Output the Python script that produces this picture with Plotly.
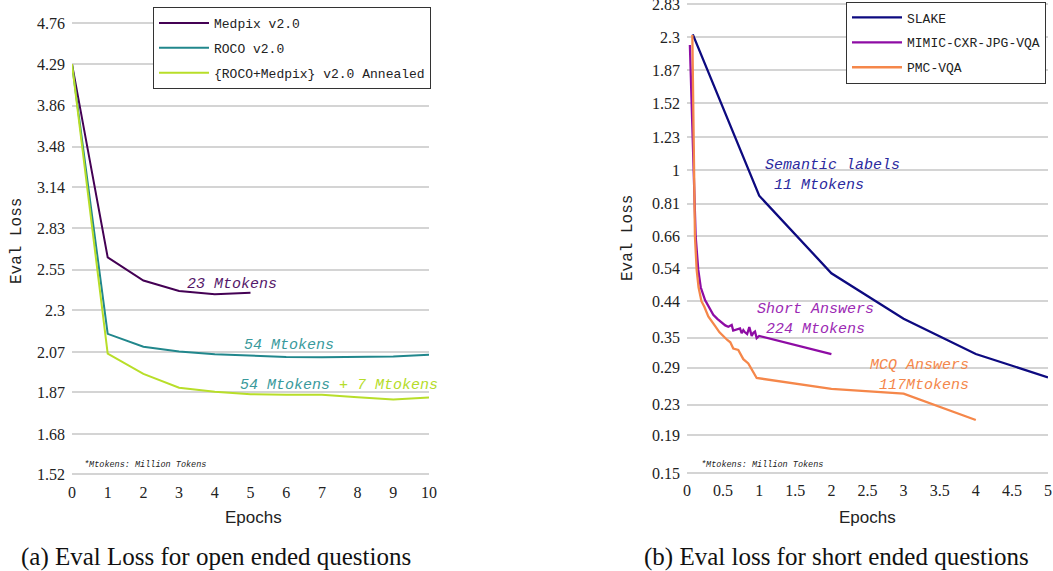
import math
import plotly.graph_objects as go

# ---------------- data: (a) open ended questions ----------------
epochs_a = [0, 1, 2, 3, 4, 5, 6, 7, 8, 9, 10]
medpix_epochs = [0, 1, 2, 3, 4, 5]
medpix_loss = [4.29, 2.63, 2.48, 2.415, 2.395, 2.405]
roco_loss = [4.29, 2.167, 2.098, 2.072, 2.058, 2.051, 2.044, 2.043, 2.044, 2.046, 2.056]
annealed_loss = [4.29, 2.061, 1.958, 1.891, 1.872, 1.86, 1.858, 1.857, 1.846, 1.835, 1.845]
yticks_a = [1.52, 1.68, 1.87, 2.07, 2.3, 2.55, 2.83, 3.14, 3.48, 3.86, 4.29, 4.76]

# ---------------- data: (b) short ended questions ----------------
slake_epochs = [0.08, 1, 2, 3, 4, 5]
slake_loss = [2.34, 0.852, 0.524, 0.394, 0.316, 0.273]
mimic_epochs = [0.04, 0.088, 0.12, 0.156, 0.19, 0.25, 0.30, 0.364, 0.42, 0.48, 0.53,
                0.572, 0.619, 0.64, 0.688, 0.734, 0.757, 0.78, 0.803, 0.833, 0.863,
                0.896, 0.92, 0.942, 0.965, 1.0, 2.0]
mimic_loss = [2.19, 1.0, 0.66, 0.535, 0.48, 0.443, 0.425, 0.404, 0.394, 0.384, 0.378,
              0.375, 0.379, 0.366, 0.368, 0.371, 0.36, 0.367, 0.362, 0.358, 0.374,
              0.354, 0.361, 0.364, 0.349, 0.354, 0.316]
pmc_epochs = [0.074, 0.097, 0.11, 0.134, 0.16, 0.2, 0.24, 0.295, 0.34, 0.388, 0.45,
              0.526, 0.558, 0.6, 0.641, 0.71, 0.78, 0.849, 0.965, 2.0, 3.0, 4.0]
pmc_loss = [2.33, 1.0, 0.66, 0.535, 0.48, 0.44, 0.425, 0.40, 0.39, 0.377, 0.362,
            0.349, 0.345, 0.34, 0.327, 0.324, 0.306, 0.298, 0.272, 0.254, 0.2465, 0.209]
yticks_b = [0.15, 0.19, 0.23, 0.29, 0.35, 0.44, 0.54, 0.66, 0.81, 1, 1.23, 1.52, 1.87, 2.3, 2.83]
xticks_b = [0, 0.5, 1, 1.5, 2, 2.5, 3, 3.5, 4, 4.5, 5]

W, H = 1053, 571
def px(x):
    return x / W
def py(y):
    return (H - y) / H

SERIF = "Liberation Serif"
MONO = "Liberation Mono"
SANS = "Liberation Sans"
GRID = "#d4d4d4"

fig = go.Figure()
fig.add_trace(go.Scatter(x=medpix_epochs, y=medpix_loss, mode="lines", name="Medpix v2.0",
                         line=dict(color="#440154", width=2), xaxis="x", yaxis="y",
                         legend="legend", legendgroup="a1"))
fig.add_trace(go.Scatter(x=epochs_a, y=roco_loss, mode="lines", name="ROCO v2.0",
                         line=dict(color="#21878c", width=2), xaxis="x", yaxis="y",
                         legend="legend", legendgroup="a2"))
fig.add_trace(go.Scatter(x=epochs_a, y=annealed_loss, mode="lines", name="{ROCO+Medpix} v2.0 Annealed",
                         line=dict(color="#b8de29", width=2), xaxis="x", yaxis="y",
                         legend="legend", legendgroup="a3"))

fig.add_trace(go.Scatter(x=slake_epochs, y=slake_loss, mode="lines", name="SLAKE",
                         line=dict(color="#0d0a80", width=2.3), xaxis="x2", yaxis="y2",
                         legend="legend2", legendgroup="b1"))
fig.add_trace(go.Scatter(x=mimic_epochs, y=mimic_loss, mode="lines", name="MIMIC-CXR-JPG-VQA",
                         line=dict(color="#8e0ca4", width=2.3), xaxis="x2", yaxis="y2",
                         legend="legend2", legendgroup="b2"))
fig.add_trace(go.Scatter(x=pmc_epochs, y=pmc_loss, mode="lines", name="PMC-VQA",
                         line=dict(color="#f5874a", width=2.3), xaxis="x2", yaxis="y2",
                         legend="legend2", legendgroup="b3"))

tickfont = dict(family=SERIF, size=16, color="#222")
fig.update_layout(
    width=W, height=H,
    margin=dict(l=0, r=0, t=0, b=0, autoexpand=False),
    paper_bgcolor="white", plot_bgcolor="white",
    xaxis=dict(domain=[px(72), px(429)], range=[0, 10], tickvals=epochs_a,
               showgrid=False, zeroline=False, showline=False, ticks="",
               tickfont=tickfont, ticklabelstandoff=4, anchor="y",
               ticklabeloverflow="allow"),
    yaxis=dict(domain=[py(476.7), py(20.3)], type="log",
               range=[math.log10(1.52) - 0.003, math.log10(4.76) + 0.003],
               tickvals=yticks_a, ticktext=[str(v) for v in yticks_a],
               showgrid=True, gridcolor=GRID, gridwidth=1.6, zeroline=False,
               showline=False, ticks="", tickfont=tickfont, ticklabelstandoff=6, anchor="x",
               ticklabeloverflow="allow"),
    xaxis2=dict(domain=[px(687), px(1048)], range=[0, 5], tickvals=xticks_b,
                ticktext=[("%g" % v) for v in xticks_b],
                showgrid=False, zeroline=False, showline=False, ticks="",
                tickfont=tickfont, ticklabelstandoff=4, anchor="y2",
                ticklabeloverflow="allow"),
    yaxis2=dict(domain=[py(474.8), py(2.2)], type="log",
                range=[math.log10(0.15) - 0.005, math.log10(2.83) + 0.005],
                tickvals=yticks_b, ticktext=[("%g" % v) for v in yticks_b],
                showgrid=True, gridcolor=GRID, gridwidth=1.6, zeroline=False,
                showline=False, ticks="", tickfont=tickfont, ticklabelstandoff=6, anchor="x2",
                ticklabeloverflow="allow"),
    legend=dict(x=px(153), y=py(7), xanchor="left", yanchor="top",
                bgcolor="white", bordercolor="#333", borderwidth=1,
                font=dict(family=MONO, size=13, color="#222"),
                tracegroupgap=5, itemwidth=50),
    legend2=dict(x=px(846), y=py(1.5), xanchor="left", yanchor="top",
                 bgcolor="white", bordercolor="#333", borderwidth=1,
                 font=dict(family=MONO, size=13, color="#222"),
                 tracegroupgap=5, itemwidth=50),
    showlegend=True,
)

def ann(x, y, text, size, color, family=MONO, xanchor="center", align="center", angle=0):
    fig.add_annotation(x=px(x), y=py(y), xref="paper", yref="paper", text=text,
                       showarrow=False, xanchor=xanchor, yanchor="middle", align=align,
                       textangle=angle, font=dict(family=family, size=size, color=color))

# axis titles
ann(17, 241, "Eval Loss", 16, "#222", angle=-90)
ann(628, 238, "Eval Loss", 16, "#222", angle=-90)
ann(253, 517, "Epochs", 17, "#222", family=SANS)
ann(867, 517, "Epochs", 17, "#222", family=SANS)

# captions
ann(216, 557, "(a) Eval Loss for open ended questions", 25, "#111", family=SERIF)
ann(836, 557, "(b) Eval loss for short ended questions", 25, "#111", family=SERIF)

# in-plot annotations (a)
ann(232, 284, "<i>23 Mtokens</i>", 15, "#55186a")
ann(289, 345, "<i>54 Mtokens</i>", 15, "#3a9a9c")
ann(339, 385, "<i><span style='color:#3a9a9c'>54 Mtokens</span> + 7 Mtokens</i>", 15, "#b5dc2a")
ann(82, 465, "<i>*Mtokens: Million Tokens</i>", 8.5, "#222", xanchor="left")

# in-plot annotations (b)
fig.add_annotation(x=px(763), y=py(175), xref="paper", yref="paper",
                   text="<i>Semantic labels<br>&nbsp;11 Mtokens</i>", showarrow=False,
                   xanchor="left", yanchor="middle", align="left",
                   font=dict(family=MONO, size=15, color="#2b2a9e"))
fig.add_annotation(x=px(755), y=py(319), xref="paper", yref="paper",
                   text="<i>Short Answers<br>&nbsp;224 Mtokens</i>", showarrow=False,
                   xanchor="left", yanchor="middle", align="left",
                   font=dict(family=MONO, size=15, color="#9c2ab4"))
fig.add_annotation(x=px(971), y=py(376), xref="paper", yref="paper",
                   text="<i>MCQ Answers<br>117Mtokens</i>", showarrow=False,
                   xanchor="right", yanchor="middle", align="right",
                   font=dict(family=MONO, size=15, color="#f4874b"))
ann(699, 465, "<i>*Mtokens: Million Tokens</i>", 8.5, "#222", xanchor="left")

fig.write_html("out.html", config={"displayModeBar": False},
               post_script="document.body.style.margin='0';")
